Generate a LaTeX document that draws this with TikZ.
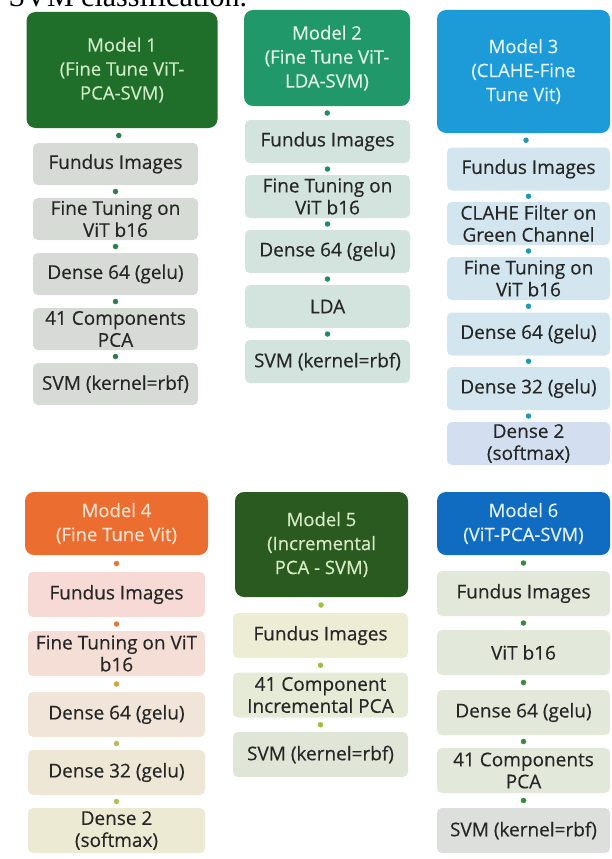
\documentclass[tikz,border=0pt]{standalone}
\usepackage{fontspec}
\setmainfont{Open Sans}[FakeBold=0.35]
\newfontfamily\capfont{Liberation Serif}
\usetikzlibrary{positioning}

% header colours
\definecolor{hdone}{HTML}{1F6E2A}
\definecolor{hdtwo}{HTML}{21986A}
\definecolor{hdthree}{HTML}{1C9BD8}
\definecolor{hdfour}{HTML}{EB6E30}
\definecolor{hdfive}{HTML}{2B5A20}
\definecolor{hdsix}{HTML}{0F6CC0}
% header text colours
\definecolor{txone}{HTML}{CFEAC6}
\definecolor{txtwo}{HTML}{E2F3EA}
\definecolor{txthree}{HTML}{E3F2FB}
\definecolor{txfour}{HTML}{FDE2CF}
\definecolor{txfive}{HTML}{D6EBC6}
\definecolor{txsix}{HTML}{E6F0FA}
% step fills
\definecolor{stone}{HTML}{D6DBD6}
\definecolor{sttwo}{HTML}{D3E3DD}
\definecolor{stthree}{HTML}{D3E6EF}
\definecolor{stthreeb}{HTML}{D3DFF0}
\definecolor{stfoura}{HTML}{F7DAD5}
\definecolor{stfourb}{HTML}{F5DED6}
\definecolor{stfourc}{HTML}{F1E5D9}
\definecolor{stfourd}{HTML}{EFE7D6}
\definecolor{stfoure}{HTML}{EDEAD3}
\definecolor{stfivea}{HTML}{EDEDD6}
\definecolor{stfiveb}{HTML}{E6EBD7}
\definecolor{stfivec}{HTML}{DFE5D7}
\definecolor{stsix}{HTML}{E3E9DA}
\definecolor{stsixb}{HTML}{DCDFDB}
% dot colours
\definecolor{dtone}{HTML}{2E7D4F}
\definecolor{dttwo}{HTML}{1E8C60}
\definecolor{dtthree}{HTML}{1E9AB0}
\definecolor{dtfoura}{HTML}{E0783A}
\definecolor{dtfourb}{HTML}{D9A23E}
\definecolor{dtfourc}{HTML}{BDBB5A}
\definecolor{dtfourd}{HTML}{AEC050}
\definecolor{dtfive}{HTML}{9DC040}
\definecolor{dtsix}{HTML}{3A8A3A}

\begin{document}
\begin{tikzpicture}[x=1pt,y=-1pt,
    head/.style={rounded corners=9pt, align=center, inner sep=0pt,
      font=\fontsize{18.5}{24}\selectfont},
    stepbox/.style={rounded corners=5pt, align=center, inner sep=0pt,
      text=black!85, font=\fontsize{19}{22}\selectfont},
    dot/.style={circle, inner sep=0pt, minimum size=5.5pt}]
  \useasboundingbox (0,0) rectangle (612,859);

  % caption fragment cut at the top
  \begin{scope}
    \clip (0,0) rectangle (612,859);
    \node[anchor=base west, inner sep=0pt, font=\capfont\fontsize{30}{31}\selectfont] (cap) at (-9,7) {r SVM classification.};
  \end{scope}

  % Model 1
  \node[head, fill=hdone, text=txone, minimum width=191pt, minimum height=116pt] (h1) at (122,70) {Model 1\\(Fine Tune ViT-\\PCA-SVM)};
  \node[stepbox, fill=stone, minimum width=165pt, minimum height=42pt] (s11) at (115.5,164) {Fundus Images};
  \node[stepbox, fill=stone, minimum width=165pt, minimum height=42pt] (s12) at (115.5,219) {Fine Tuning on\\ViT b16};
  \node[stepbox, fill=stone, minimum width=165pt, minimum height=42pt] (s13) at (115.5,274) {Dense 64 (gelu)};
  \node[stepbox, fill=stone, minimum width=165pt, minimum height=42pt] (s14) at (115.5,329) {41 Components\\PCA};
  \node[stepbox, fill=stone, minimum width=165pt, minimum height=42pt] (s15) at (115.5,384) {SVM (kernel=rbf)};
  \foreach \a/\b in {h1/s11,s11/s12,s12/s13,s13/s14,s14/s15}
    \path (\a.south) -- (\b.north) node[midway, dot, fill=dtone] {};

  % Model 2
  \node[head, fill=hdtwo, text=txtwo, minimum width=166pt, minimum height=96pt] (h2) at (327,58) {Model 2\\(Fine Tune ViT-\\LDA-SVM)};
  \node[stepbox, fill=sttwo, minimum width=165pt, minimum height=43pt] (s21) at (327.5,141.5) {Fundus Images};
  \node[stepbox, fill=sttwo, minimum width=165pt, minimum height=43pt] (s22) at (327.5,196.5) {Fine Tuning on\\ViT b16};
  \node[stepbox, fill=sttwo, minimum width=165pt, minimum height=43pt] (s23) at (327.5,251.5) {Dense 64 (gelu)};
  \node[stepbox, fill=sttwo, minimum width=165pt, minimum height=43pt] (s24) at (327.5,306.5) {LDA};
  \node[stepbox, fill=sttwo, minimum width=165pt, minimum height=43pt] (s25) at (327.5,361.5) {SVM (kernel=rbf)};
  \foreach \a/\b in {h2/s21,s21/s22,s22/s23,s23/s24,s24/s25}
    \path (\a.south) -- (\b.north) node[midway, dot, fill=dttwo] {};

  % Model 3
  \node[head, fill=hdthree, text=txthree, minimum width=173pt, minimum height=123pt] (h3) at (523.5,71.5) {Model 3\\(CLAHE-Fine\\Tune Vit)};
  \node[stepbox, fill=stthree, minimum width=163pt, minimum height=43pt] (s31) at (528.5,169) {Fundus Images};
  \node[stepbox, fill=stthree, minimum width=163pt, minimum height=43pt] (s32) at (528.5,223.5) {CLAHE Filter on\\Green Channel};
  \node[stepbox, fill=stthree, minimum width=163pt, minimum height=43pt] (s33) at (528.5,278.5) {Fine Tuning on\\ViT b16};
  \node[stepbox, fill=stthree, minimum width=163pt, minimum height=43pt] (s34) at (528.5,334) {Dense 64 (gelu)};
  \node[stepbox, fill=stthree, minimum width=163pt, minimum height=43pt] (s35) at (528.5,388.5) {Dense 32 (gelu)};
  \node[stepbox, fill=stthreeb, minimum width=163pt, minimum height=43pt] (s36) at (528.5,443.5) {Dense 2\\(softmax)};
  \foreach \a/\b in {h3/s31,s31/s32,s32/s33,s33/s34,s34/s35,s35/s36}
    \path (\a.south) -- (\b.north) node[midway, dot, fill=dtthree] {};

  % Model 4
  \node[head, fill=hdfour, text=txfour, minimum width=183pt, minimum height=63pt] (h4) at (116.5,523.5) {Model 4\\(Fine Tune Vit)};
  \node[stepbox, fill=stfoura, minimum width=177pt, minimum height=45pt] (s41) at (116.5,594.5) {Fundus Images};
  \node[stepbox, fill=stfourb, minimum width=177pt, minimum height=45pt] (s42) at (116.5,653.5) {Fine Tuning on ViT\\b16};
  \node[stepbox, fill=stfourc, minimum width=177pt, minimum height=45pt] (s43) at (116.5,714.5) {Dense 64 (gelu)};
  \node[stepbox, fill=stfourd, minimum width=177pt, minimum height=45pt] (s44) at (116.5,772.5) {Dense 32 (gelu)};
  \node[stepbox, fill=stfoure, minimum width=177pt, minimum height=45pt] (s45) at (116.5,830.5) {Dense 2\\(softmax)};
  \foreach \a/\b/\c in {h4/s41/dtfoura,s41/s42/dtfoura,s42/s43/dtfourb,s43/s44/dtfourc,s44/s45/dtfourd}
    \path (\a.south) -- (\b.north) node[midway, dot, fill=\c] {};

  % Model 5
  \node[head, fill=hdfive, text=txfive, minimum width=173pt, minimum height=105pt] (h5) at (321.5,544.5) {Model 5\\(Incremental\\PCA - SVM)};
  \node[stepbox, fill=stfivea, minimum width=175pt, minimum height=45pt] (s51) at (320.5,635.5) {Fundus Images};
  \node[stepbox, fill=stfiveb, minimum width=175pt, minimum height=45pt] (s52) at (320.5,695) {41 Component\\Incremental PCA};
  \node[stepbox, fill=stfivec, minimum width=175pt, minimum height=45pt] (s53) at (320.5,754.5) {SVM (kernel=rbf)};
  \foreach \a/\b in {h5/s51,s51/s52,s52/s53}
    \path (\a.south) -- (\b.north) node[midway, dot, fill=dtfive] {};

  % Model 6
  \node[head, fill=hdsix, text=txsix, minimum width=173pt, minimum height=63pt] (h6) at (523.5,523.5) {Model 6\\(ViT-PCA-SVM)};
  \node[stepbox, fill=stsix, minimum width=173pt, minimum height=45pt] (s61) at (523.5,593.5) {Fundus Images};
  \node[stepbox, fill=stsix, minimum width=173pt, minimum height=45pt] (s62) at (523.5,652.5) {ViT b16};
  \node[stepbox, fill=stsix, minimum width=173pt, minimum height=45pt] (s63) at (523.5,712.5) {Dense 64 (gelu)};
  \node[stepbox, fill=stsix, minimum width=173pt, minimum height=45pt] (s64) at (523.5,770.5) {41 Components\\PCA};
  \node[stepbox, fill=stsixb, minimum width=173pt, minimum height=45pt] (s65) at (523.5,830.5) {SVM (kernel=rbf)};
  \foreach \a/\b in {h6/s61,s61/s62,s62/s63,s63/s64,s64/s65}
    \path (\a.south) -- (\b.north) node[midway, dot, fill=dtsix] {};
\end{tikzpicture}
\end{document}
